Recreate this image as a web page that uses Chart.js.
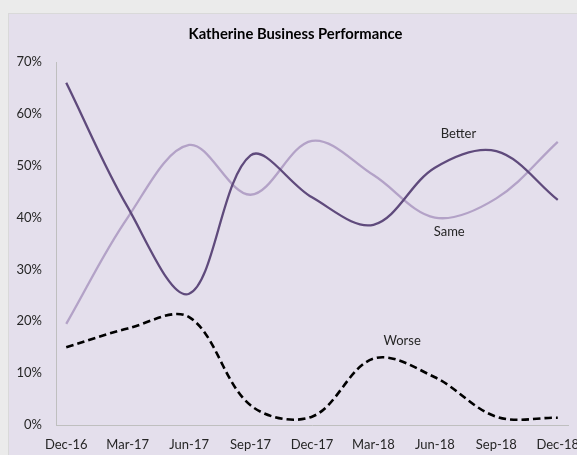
<!DOCTYPE html>
<html>
<head>
<meta charset="utf-8">
<script src="https://cdn.jsdelivr.net/npm/chart.js@4.4.0/dist/chart.umd.min.js"></script>
<style>
  html, body { margin: 0; padding: 0; background: #ebebeb; }
  canvas { display: block; }
</style>
</head>
<body>
<canvas id="myChart" width="577" height="455"></canvas>
<script>
// months since Dec-16 for each survey point
var months = [0, 3, 6, 9, 12, 15, 18, 21, 24];
var monthLabels = ['Dec-16', 'Mar-17', 'Jun-17', 'Sep-17', 'Dec-17', 'Mar-18', 'Jun-18', 'Sep-18', 'Dec-18'];
var better = [66, 42, 25.3, 52, 43.9, 38.6, 49.6, 52.8, 43.4];
var same = [19.5, 40, 54, 44.4, 54.8, 48.2, 40, 43.7, 54.6];
var worse = [15, 18.6, 20.8, 3.8, 1.6, 12.8, 9.2, 1.6, 1.4];
var yTicks = [0, 10, 20, 30, 40, 50, 60, 70];
var chartTitle = 'Katherine Business Performance';

function toPoints(vals) {
    var out = [];
    for (let i = 0; i < months.length; i++) {
        out.push({ x: months[i], y: vals[i] });
    }
    return out;
}

// text labels next to the lines (in data units)
var seriesNotes = [
    { text: 'Better', x: 19.15, y: 56.1 },
    { text: 'Same', x: 18.7, y: 37.3 },
    { text: 'Worse', x: 16.4, y: 16.3 }
];

var bgPlugin = {
    id: 'bg',
    beforeDraw: function (chart) {
        var c = chart.ctx;
        c.save();
        c.fillStyle = '#ebebeb';
        c.fillRect(0, 0, chart.width, chart.height);
        c.fillStyle = '#e4dfec';
        c.fillRect(8, 13, chart.width - 8, chart.height - 13);
        c.strokeStyle = '#d9d9d9';
        c.lineWidth = 1;
        c.strokeRect(8.5, 13.5, chart.width, chart.height);
        c.restore();
    }
};

var notesPlugin = {
    id: 'notes',
    afterDatasetsDraw: function (chart) {
        var c = chart.ctx;
        var xs = chart.scales.x, ys = chart.scales.y;
        c.save();
        c.textAlign = 'center';
        c.textBaseline = 'middle';
        // title, centred on the chart box (which starts at x=8 and runs past the right edge)
        c.font = 'bold 14.8px Lato';
        c.fillStyle = '#000000';
        c.fillText(chartTitle, 295.5, 34);
        c.font = '13px Lato';
        c.fillStyle = '#262626';
        seriesNotes.forEach(function (n) {
            c.fillText(n.text, xs.getPixelForValue(n.x), ys.getPixelForValue(n.y));
        });
        c.restore();
    }
};

var ctx = document.getElementById('myChart');
var chart = new Chart(ctx, {
    type: 'line',
    data: {
        datasets: [
            {
                label: 'Better',
                data: toPoints(better),
                borderColor: '#5f4a7c',
                borderWidth: 2.3,
                pointRadius: 0,
                tension: 0.35,
                fill: false
            },
            {
                label: 'Same',
                data: toPoints(same),
                borderColor: '#b3a2c7',
                borderWidth: 2.3,
                pointRadius: 0,
                tension: 0.35,
                fill: false
            },
            {
                label: 'Worse',
                data: toPoints(worse),
                borderColor: '#000000',
                borderWidth: 2.6,
                borderDash: [7.5, 4],
                pointRadius: 0,
                tension: 0.35,
                fill: false
            }
        ]
    },
    options: {
        responsive: false,
        animation: false,
        layout: { padding: { left: 0, right: 9, top: 62, bottom: 0 } },
        scales: {
            x: {
                type: 'linear',
                min: -0.5,
                max: 24.5,
                afterBuildTicks: function (axis) {
                    axis.ticks = months.map(function (m) { return { value: m }; });
                },
                afterFit: function (axis) {
                    axis.height = 30;
                    // the last label runs off the canvas edge, as in the original
                    axis.paddingLeft = 0;
                    axis.paddingRight = 0;
                },
                grid: { display: false },
                border: { display: true, color: '#bfbfbf', width: 1 },
                ticks: {
                    padding: 4,
                    maxRotation: 0,
                    autoSkip: false,
                    color: '#262626',
                    font: { family: 'Lato', size: 13 },
                    callback: function (v) { return monthLabels[months.indexOf(v)]; }
                }
            },
            y: {
                min: 0,
                max: 70,
                afterBuildTicks: function (axis) {
                    axis.ticks = yTicks.map(function (v) { return { value: v }; });
                },
                afterFit: function (axis) { axis.width = 56; },
                grid: { display: false },
                border: { display: true, color: '#bfbfbf', width: 1 },
                ticks: {
                    padding: 6,
                    color: '#262626',
                    font: { family: 'Lato', size: 13 },
                    callback: function (v) { return v + '%'; }
                }
            }
        },
        plugins: {
            legend: { display: false },
            tooltip: { enabled: false },
            title: { display: false }
        }
    },
    plugins: [bgPlugin, notesPlugin]
});
</script>
</body>
</html>
